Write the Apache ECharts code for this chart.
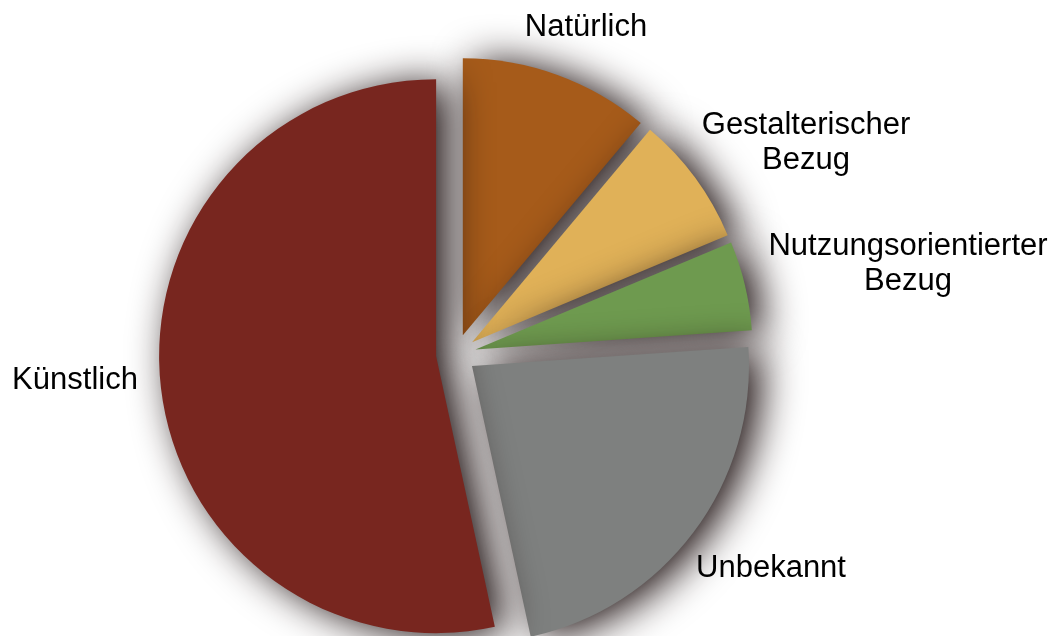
<!DOCTYPE html>
<html>
<head>
<meta charset="utf-8">
<style>
  html, body { margin: 0; padding: 0; background: #ffffff; }
  #chart { width: 1064px; height: 636px; }
</style>
<script src="https://cdn.jsdelivr.net/npm/echarts@6/dist/echarts.min.js"></script>
</head>
<body>
<div id="chart"></div>
<script>
// Shares of the categories, in percent, in drawing order (clockwise from 12 o'clock)
const categories = ['Natürlich', 'Gestalterischer\nBezug', 'Nutzungsorientierter\nBezug', 'Unbekannt', 'Künstlich'];
const shares = [11.1, 7.6, 5.2, 22.7, 53.4];
const sliceColors = ['#a65b1a', '#e0b158', '#6e9a4f', '#7e807f', '#78261f'];

// Where each category's label sits (centre of the text block)
const labelSpots = [
  [586, 27],
  [806, 143],
  [908, 264],
  [771, 568],
  [75, 380]
];

const chart = echarts.init(document.getElementById('chart'), null, { renderer: 'canvas' });

const labelFont = '"Liberation Sans", Arial, Helvetica, sans-serif';

chart.setOption({
  animation: false,
  backgroundColor: '#ffffff',
  graphic: categories.map(function (name, i) {
    return {
      type: 'text',
      x: labelSpots[i][0],
      y: labelSpots[i][1],
      z: 10,
      style: {
        text: name,
        fill: '#000000',
        font: '31px ' + labelFont,
        lineHeight: 35,
        align: 'center',
        verticalAlign: 'middle'
      }
    };
  }),
  series: [{
    type: 'pie',
    center: [456, 354],
    radius: [0, 277],
    startAngle: 90,
    clockwise: true,
    selectedMode: 'multiple',
    selectedOffset: 20,
    avoidLabelOverlap: false,
    emphasis: { disabled: true },
    itemStyle: {
      shadowBlur: 40,
      shadowColor: 'rgba(25,12,12,1)',
      shadowOffsetX: 12,
      shadowOffsetY: 3
    },
    label: { show: false },
    labelLine: { show: false },
    data: categories.map(function (name, i) {
      return {
        name: name,
        value: shares[i],
        selected: true,
        itemStyle: { color: sliceColors[i] }
      };
    })
  }]
});
</script>
</body>
</html>
